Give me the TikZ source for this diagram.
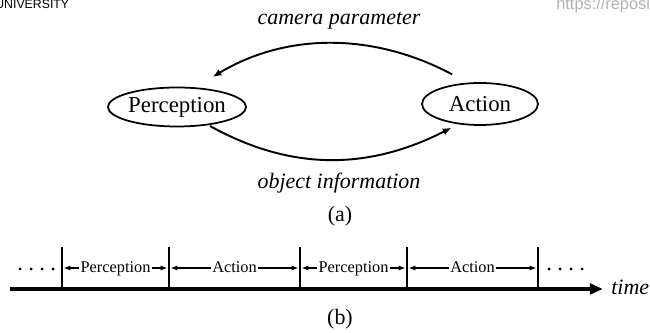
\documentclass[tikz,border=0pt]{standalone}
\usepackage{fontspec}
\setmainfont{Liberation Serif}
\newfontfamily\hdrsans{Liberation Sans}
\usetikzlibrary{arrows.meta,shapes.geometric}

\begin{document}
\begin{tikzpicture}[x=0.02cm,y=0.02cm,
  stage/.style={draw,ellipse,line width=1pt,inner sep=0pt,font=\fontsize{13}{15}\selectfont},
  feedback/.style={line width=1.1pt,-{Latex[length=5pt,width=4pt]}},
  lbl/.style={inner sep=0pt,font=\fontsize{12.5}{15}\selectfont\itshape},
  caption/.style={inner sep=0pt,font=\fontsize{12.5}{15}\selectfont},
  tickline/.style={line width=1.6pt},
  spanarrow/.style={line width=0.8pt,shorten <=0.8pt,shorten >=0.8pt,{Latex[length=4pt,width=3pt]}-{Latex[length=4pt,width=3pt]}},
  phase/.style={fill=white,inner sep=1pt,text height=0.68em,text depth=0.22em,font=\fontsize{9.3}{11}\selectfont},
  dots/.style={anchor=base west,inner sep=0pt,font=\fontsize{13}{15}\selectfont}]
\useasboundingbox (0,0) rectangle (650,333);
\node[anchor=base west,inner sep=0pt,font=\hdrsans\fontsize{7}{8}\selectfont] (uni) at (-5,324) {UNIVERSITY};
\node[anchor=base west,inner sep=0pt,text=gray!60,font=\hdrsans\fontsize{9.3}{11}\selectfont] (url) at (556,323) {https://reposi};
\node[stage,minimum width=2.34cm,minimum height=0.78cm] (perc) at (177,226) {Perception};
\node[stage,minimum width=2.32cm,minimum height=0.84cm] (act) at (480,229) {Action};
\draw[feedback,shorten <=10pt,shorten >=11.5pt] (act.120) to[out=152,in=31] (perc.47);
\draw[feedback,shorten <=1pt,shorten >=4.3pt] (perc.-30) to[out=-29,in=-153] (act.-137);
\node[lbl,anchor=base] (cam) at (339,308) {camera parameter};
\node[lbl,anchor=base] (obj) at (339,144) {object information};
\node[caption,anchor=base] (capa) at (340,111) {(a)};
\coordinate (tstart) at (10,44);
\coordinate (tend) at (603,44);
\draw[line width=2.4pt,-{Triangle[length=7.5pt,width=6pt]}] (tstart) -- (tend);
\node[lbl,anchor=base west] (time) at (611,38) {time};
\foreach \x [count=\i] in {62,169,300,407,538} {
  \coordinate (b\i) at (\x,44);
  \coordinate (m\i) at (\x,65);
  \draw[tickline] (b\i) -- (\x,86);
}
\draw[spanarrow] (m1) -- node[phase] (p1) {Perception} (m2);
\draw[spanarrow] (m2) -- node[phase] (a1) {Action} (m3);
\draw[spanarrow] (m3) -- node[phase] (p2) {Perception} (m4);
\draw[spanarrow] (m4) -- node[phase] (a2) {Action} (m5);
\node[dots] (ldots) at (17,62) {.\hspace{3pt}.\hspace{3pt}.\hspace{3pt}.};
\node[dots] (rdots) at (546,62) {.\hspace{3pt}.\hspace{3pt}.\hspace{3pt}.};
\node[caption,anchor=base] (capb) at (340,8) {(b)};
\end{tikzpicture}
\end{document}
